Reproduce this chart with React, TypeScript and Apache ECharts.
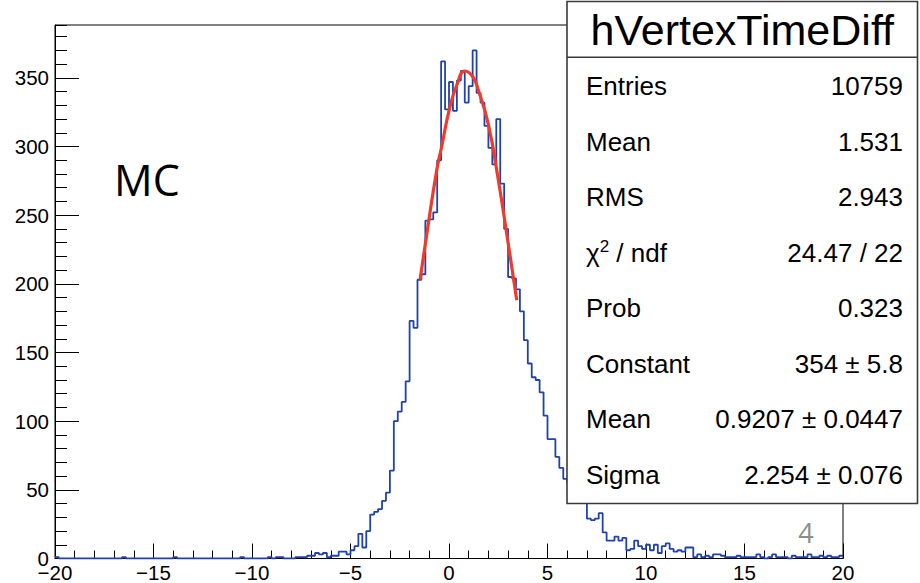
import React, { useEffect, useRef } from 'react';
import * as echarts from 'echarts';

// Histogram binning (x axis range and bin width)
const X_MIN = -20;
const X_MAX = 20;
const BIN_WIDTH = 0.2;
const Y_MAX = 388.5;

// Bin contents (200 bins from -20 to 20)
const binCounts = [
  1, 0, 0, 0, 0, 0, 0, 0, 0, 0,
  0, 0, 0, 0, 0, 0, 0, 1, 0, 0,
  0, 0, 0, 0, 0, 0, 0, 0, 0, 0,
  1, 0, 0, 0, 0, 0, 0, 0, 0, 0,
  0, 0, 0, 0, 0, 0, 0, 1, 0, 0,
  0, 0, 0, 0, 1, 0, 1, 1, 0, 0,
  0, 1, 1, 1, 2, 2, 4, 3, 4, 1,
  2, 2, 5, 5, 3, 6, 9, 18, 8, 20,
  32, 34, 36, 42, 48, 64, 100, 107, 114, 129,
  173, 168, 203, 207, 246, 247, 252, 290, 362, 327,
  347, 326, 348, 355, 332, 344, 370, 339, 332, 315,
  299, 287, 320, 273, 240, 205, 204, 196, 180, 159,
  142, 132, 130, 121, 104, 87, 87, 74, 66, 58,
  55, 50, 47, 45, 42, 29, 28, 29, 33, 19,
  13, 13, 16, 13, 15, 6, 7, 13, 9, 7,
  10, 6, 10, 4, 9, 11, 7, 5, 6, 5,
  8, 8, 1, 3, 1, 2, 1, 3, 3, 2,
  1, 1, 1, 2, 1, 1, 1, 1, 3, 1,
  0, 1, 3, 1, 1, 1, 0, 2, 1, 1,
  1, 3, 1, 1, 2, 1, 2, 1, 1, 2,
];

// Gaussian fit curve
const fitX = [-1.47, -1.13, -0.62, -0.37, 0.0, 0.4, 0.81, 1.2, 1.49, 2.0, 2.5, 3.01, 3.44];
const fitY = [203, 236, 283, 300, 326, 345, 355, 351, 341, 316, 276, 229, 188];

// Stats box
const histTitle = 'hVertexTimeDiff';
const statLabels = ['Entries', 'Mean', 'RMS', '{a|χ}{s|2}{a| / ndf}', 'Prob', 'Constant', 'Mean', 'Sigma'];
const statValues = ['10759', '1.531', '2.943', '24.47 / 22', '0.323', '354 ± 5.8', '0.9207 ± 0.0447', '2.254 ± 0.076'];

const sansFont = "'Liberation Sans', Arial, Helvetica, sans-serif";

export default function App() {
  const ref = useRef<HTMLDivElement>(null);

  useEffect(() => {
    if (!ref.current) return;
    const chart = echarts.init(ref.current, null, { renderer: 'svg' });

    const histData: number[][] = [];
    binCounts.forEach((c, i) => {
      const lo = X_MIN + i * BIN_WIDTH;
      const hi = lo + BIN_WIDTH;
      histData.push([lo, c], [hi, c]);
    });
    const fitData = fitX.map((x, i) => [x, fitY[i]]);

    const boxX = 567;
    const boxY = 1.5;
    const boxW = 350.5;
    const boxH = 502;
    const rowY0 = 86;
    const rowStep = 55.5;

    const graphics: any[] = [
      {
        type: 'rect',
        z: 100,
        shape: { x: boxX, y: boxY, width: boxW, height: boxH },
        style: { fill: '#ffffff', stroke: '#3a3a3a', lineWidth: 1.6 },
      },
      {
        type: 'line',
        z: 101,
        shape: { x1: boxX, y1: 57.3, x2: boxX + boxW, y2: 57.3 },
        style: { stroke: '#3a3a3a', lineWidth: 1.6 },
      },
      {
        type: 'text',
        z: 102,
        x: boxX + boxW / 2,
        y: 30,
        style: {
          text: histTitle,
          fontSize: 43,
          fontFamily: sansFont,
          fill: '#000',
          align: 'center',
          verticalAlign: 'middle',
        },
      },
    ];
    statLabels.forEach((lab, i) => {
      graphics.push({
        type: 'text',
        z: 102,
        x: 586,
        y: rowY0 + i * rowStep,
        style: {
          text: lab,
          fontSize: 26,
          fontFamily: sansFont,
          fill: '#000',
          align: 'left',
          verticalAlign: 'middle',
          rich: {
            a: { fontSize: 26, fontFamily: sansFont, fill: '#000', lineHeight: 30 },
            s: { fontSize: 17, fontFamily: sansFont, fill: '#000', verticalAlign: 'top', lineHeight: 17 },
          },
        },
      });
      graphics.push({
        type: 'text',
        z: 102,
        x: 903,
        y: rowY0 + i * rowStep,
        style: {
          text: statValues[i],
          fontSize: 26,
          fontFamily: sansFont,
          fill: '#000',
          align: 'right',
          verticalAlign: 'middle',
        },
      });
    });
    graphics.push({
      type: 'text',
      z: 102,
      x: 114,
      y: 179,
      style: {
        text: 'MC',
        fontSize: 43,
        fontFamily: "'Open Sans', 'Noto Sans', sans-serif",
        fill: '#000',
        align: 'left',
        verticalAlign: 'middle',
      },
    });
    graphics.push({
      type: 'text',
      z: 102,
      x: 806,
      y: 532,
      style: {
        text: '4',
        fontSize: 27,
        fontFamily: "'Open Sans', 'Noto Sans', sans-serif",
        fill: '#8c8c8c',
        align: 'center',
        verticalAlign: 'middle',
      },
    });

    const axisLabelStyle = {
      fontSize: 20.5,
      fontFamily: sansFont,
      color: '#000',
    };

    chart.setOption({
      animation: false,
      backgroundColor: '#ffffff',
      grid: {
        left: 55,
        right: 77,
        top: 25,
        bottom: 24.5,
        show: true,
        borderColor: '#000',
        borderWidth: 1,
        backgroundColor: 'transparent',
        containLabel: false,
        outerBoundsMode: 'none',
      },
      xAxis: {
        type: 'value',
        min: X_MIN,
        max: X_MAX,
        interval: 5,
        axisLine: { show: true, onZero: false, lineStyle: { color: '#000', width: 1 } },
        axisTick: { show: true, inside: true, length: 15, lineStyle: { color: '#000', width: 1 } },
        minorTick: { show: true, splitNumber: 5, length: 8, lineStyle: { color: '#000', width: 1 } },
        splitLine: { show: false },
        minorSplitLine: { show: false },
        axisLabel: {
          ...axisLabelStyle,
          margin: 3,
          showMinLabel: true,
          showMaxLabel: true,
          formatter: (v: number) => (v < 0 ? '\u2212' + Math.abs(v) : String(v)),
        },
      },
      yAxis: [
        {
          type: 'value',
          min: 0,
          max: Y_MAX,
          interval: 50,
          position: 'left',
          axisLine: { show: true, onZero: false, lineStyle: { color: '#000', width: 1 } },
          axisTick: { show: true, inside: true, length: 24, lineStyle: { color: '#000', width: 1 } },
          splitLine: { show: false },
          axisLabel: {
            ...axisLabelStyle,
            margin: 6,
            showMaxLabel: false,
            formatter: (v: number) => (v % 50 === 0 ? String(v) : ''),
          },
        },
        {
          type: 'value',
          min: 0,
          max: Y_MAX,
          interval: 10,
          position: 'left',
          offset: 0,
          axisLine: { show: false, onZero: false },
          axisTick: { show: true, inside: true, length: 12, lineStyle: { color: '#000', width: 1 } },
          splitLine: { show: false },
          axisLabel: { show: false },
        },
      ],
      series: [
        {
          type: 'line',
          name: 'hist',
          xAxisIndex: 0,
          yAxisIndex: 0,
          data: histData,
          showSymbol: false,
          symbol: 'none',
          lineStyle: { color: '#2042b0', width: 1.8 },
          z: 2,
          clip: true,
        },
        {
          type: 'line',
          name: 'fit',
          xAxisIndex: 0,
          yAxisIndex: 0,
          data: fitData,
          smooth: true,
          showSymbol: false,
          symbol: 'none',
          lineStyle: { color: '#ef3b2c', width: 3.2 },
          z: 3,
        },
      ],
      graphic: { elements: graphics },
    });

    return () => {
      chart.dispose();
    };
  }, []);

  return (
    <div
      ref={ref}
      style={{ position: 'absolute', left: 0, top: 0, width: 920, height: 583, background: '#fff' }}
    />
  );
}
